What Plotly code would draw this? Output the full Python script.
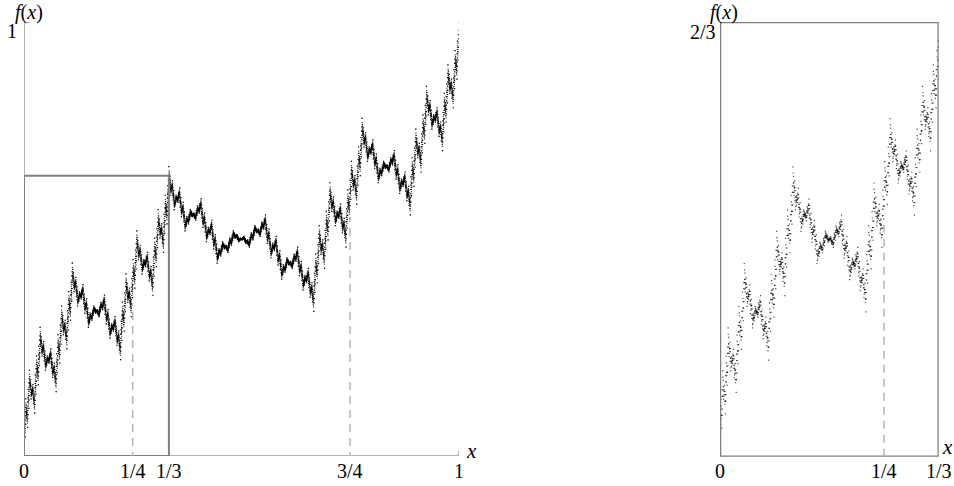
import numpy as np
import plotly.graph_objects as go

# ---- data ----
# Knots of the self-affine (Okamoto-type) function: graph passes through these
knot_x = [0.0, 1/3, 2/3, 1.0]
knot_y = [0.0, 2/3, 1/3, 1.0]
depth = 7

left_ticks = [0, 1/4, 1/3, 3/4, 1]
left_labels = ["0", "1/4", "1/3", "3/4", "1"]
right_ticks = [0, 1/4, 1/3]
right_labels = ["0", "1/4", "1/3"]

box_top_left = 0.646          # zoom box drawn on the left panel
dash_left_x = [1/4, 3/4]
dash_left_top = [0.348, 0.55]
dash_right_x = [1/4]
dash_right_top = [0.3615]

# ---- build the graph from the knot maps ----
xs, ys = np.array(knot_x), np.array(knot_y)
for _ in range(depth):
    nx, ny = [], []
    for i in range(len(knot_x) - 1):
        nx.append(knot_x[i] + (knot_x[i+1] - knot_x[i]) * xs)
        ny.append(knot_y[i] + (knot_y[i+1] - knot_y[i]) * ys)
    xs = np.concatenate(nx)
    ys = np.concatenate(ny)

mask = xs <= 1/3 + 1e-12
xs_r, ys_r = xs[mask][::2], ys[mask][::2]

W, H = 954, 486
def pxf(x):
    return x / W
def pyf(y):
    return 1 - y / H

fig = go.Figure()
mk = dict(size=1.2, color="rgba(0,0,0,0.7)", symbol="square", line=dict(width=0))
fig.add_trace(go.Scatter(x=xs, y=ys, mode="markers", marker=mk, xaxis="x", yaxis="y",
                         hoverinfo="skip", showlegend=False))
fig.add_trace(go.Scatter(x=xs_r, y=ys_r, mode="markers", marker=mk, xaxis="x2", yaxis="y2",
                         hoverinfo="skip", showlegend=False))

ax_common = dict(showgrid=False, zeroline=False, showticklabels=False, ticks="",
                 showline=False, fixedrange=True)
fig.update_layout(
    width=W, height=H, margin=dict(l=0, r=0, t=0, b=0),
    plot_bgcolor="white", paper_bgcolor="white",
    xaxis=dict(domain=[pxf(24), pxf(458.7)], range=[0, 1], **ax_common),
    yaxis=dict(domain=[pyf(456), pyf(22)], range=[0, 1], **ax_common),
    xaxis2=dict(domain=[pxf(720), pxf(938.7)], range=[0, 1/3], anchor="y2", **ax_common),
    yaxis2=dict(domain=[pyf(456.7), pyf(22)], range=[0, 2/3], anchor="x2", **ax_common),
)

axis_col = "#9a9a9a"
box_col = "#7f7f7f"
dash_col = "#b5b5b5"
ly = 1 / 434.0   # one pixel in left y units
lx = 1 / 434.7
shapes = []
# left axes
shapes.append(dict(type="line", xref="x", yref="y", x0=0, x1=0, y0=0, y1=1,
                   line=dict(color=axis_col, width=1.5)))
shapes.append(dict(type="line", xref="x", yref="y", x0=-5*lx, x1=6*lx, y0=1, y1=1,
                   line=dict(color=axis_col, width=1.5)))
shapes.append(dict(type="line", xref="x", yref="y", x0=0, x1=1, y0=0, y1=0,
                   line=dict(color=axis_col, width=1.5)))
shapes.append(dict(type="line", xref="x", yref="y", x0=1, x1=1, y0=-5*ly, y1=5*ly,
                   line=dict(color=axis_col, width=1.5)))
shapes.append(dict(type="line", xref="x", yref="y", x0=1/3, x1=1/3, y0=-5*ly, y1=0,
                   line=dict(color=box_col, width=2)))
# zoom box
shapes.append(dict(type="rect", xref="x", yref="y", x0=0, x1=1/3, y0=0, y1=box_top_left,
                   line=dict(color=box_col, width=2)))
for xv, tv in zip(dash_left_x, dash_left_top):
    shapes.append(dict(type="line", xref="x", yref="y", x0=xv, x1=xv, y0=-4*ly, y1=tv,
                       line=dict(color=dash_col, width=1.5, dash="8px,6px")))
# right panel frame
shapes.append(dict(type="rect", xref="x2", yref="y2", x0=0, x1=1/3, y0=0, y1=2/3,
                   line=dict(color=box_col, width=2.5)))
shapes.append(dict(type="line", xref="x2", yref="y2", x0=1/3, x1=1/3, y0=-0.012, y1=0,
                   line=dict(color=box_col, width=2)))
for xv, tv in zip(dash_right_x, dash_right_top):
    shapes.append(dict(type="line", xref="x2", yref="y2", x0=xv, x1=xv, y0=0, y1=tv,
                       line=dict(color=dash_col, width=1.5, dash="8px,6px")))
fig.update_layout(shapes=shapes)

serif = "Liberation Serif, Times New Roman, serif"
ann = []
def lab(text, x, y, xref="paper", size=20, xanchor="center", yanchor="middle"):
    ann.append(dict(text=text, x=x, y=y, xref=xref, yref="paper", showarrow=False,
                    xanchor=xanchor, yanchor=yanchor, borderpad=0,
                    font=dict(family=serif, size=size, color="#000")))

for v, t in zip(left_ticks, left_labels):
    lab(t, v, pyf(471), xref="x")
for v, t in zip(right_ticks, right_labels):
    lab(t, v, pyf(471), xref="x2")
lab("<i>f</i>(<i>x</i>)", pxf(29), pyf(0), size=20, yanchor="top")
lab("1", pxf(12), pyf(31))
lab("<i>x</i>", pxf(471), pyf(451), size=21)
lab("<i>f</i>(<i>x</i>)", pxf(724), pyf(0), size=20, yanchor="top")
lab("2/3", pxf(703), pyf(32))
lab("<i>x</i>", pxf(954), pyf(447), size=21, xanchor="right")
fig.update_layout(annotations=ann)

fig.write_html("out.html", config={"displayModeBar": False},
               post_script="document.body.style.margin='0';document.body.style.overflow='hidden';")
